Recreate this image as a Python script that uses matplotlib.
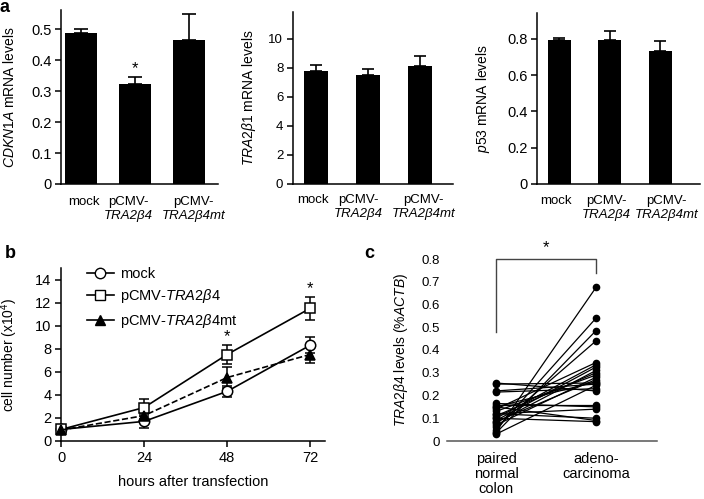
import numpy as np
import matplotlib
matplotlib.use("Agg")
import matplotlib.pyplot as plt
from matplotlib.lines import Line2D
from matplotlib.transforms import offset_copy

plt.rcParams.update({
    "font.family": ["Liberation Sans", "DejaVu Sans"],
    "mathtext.fontset": "custom",
    "mathtext.rm": "Liberation Sans",
    "mathtext.it": "Liberation Sans:italic",
    "mathtext.bf": "Liberation Sans:bold",
    "axes.linewidth": 1.1,
    "xtick.direction": "out",
    "ytick.direction": "out",
    "xtick.major.width": 1.1,
    "ytick.major.width": 1.1,
})

# ---- panel a data ----
GROUP_LINE1 = ["mock", "pCMV-", "pCMV-"]
GROUP_LINE2 = ["", "TRA2β4", "TRA2β4mt"]
CDKN1A = [0.49, 0.325, 0.465]
CDKN1A_ERR = [0.012, 0.02, 0.085]
TRA2B1 = [7.8, 7.5, 8.15]
TRA2B1_ERR = [0.4, 0.45, 0.65]
P53 = [0.795, 0.795, 0.735]
P53_ERR = [0.012, 0.05, 0.055]

# ---- panel b data ----
HOURS = [0, 24, 48, 72]
MOCK_CELLS = [1.0, 1.7, 4.3, 8.3]
MOCK_ERR = [0.3, 0.6, 0.5, 0.7]
TRA_CELLS = [1.0, 2.9, 7.5, 11.5]
TRA_ERR = [0.3, 0.7, 0.8, 1.0]
MT_CELLS = [0.95, 2.2, 5.5, 7.5]
MT_ERR = [0.3, 0.3, 0.9, 0.7]
STAR_HOURS = [48, 72]
STAR_Y = [9.05, 13.2]

# ---- panel c data (paired samples) ----
TISSUES = ["paired\nnormal\ncolon", "adeno-\ncarcinoma"]
NORMAL = [0.04, 0.05, 0.035, 0.06, 0.25, 0.22, 0.255, 0.215, 0.15, 0.16, 0.12, 0.14,
          0.10, 0.09, 0.08, 0.11, 0.13, 0.07, 0.085, 0.15, 0.165, 0.03, 0.10, 0.12]
TUMOR = [0.675, 0.54, 0.485, 0.44, 0.255, 0.25, 0.22, 0.23, 0.09, 0.16, 0.14, 0.345,
         0.335, 0.325, 0.31, 0.30, 0.29, 0.28, 0.27, 0.26, 0.15, 0.245, 0.085, 0.10]

fig = plt.figure(figsize=(7.04, 4.99), dpi=100)


def px_axes(l, t, r, b):
    return fig.add_axes([l / 704, 1 - b / 499, (r - l) / 704, (b - t) / 499])


def bar_panel(ax, vals, errs, ylabel, ylim, yticks, yticklabels, xlim, width, fs_tick,
              cap, line_off, label_x):
    x = np.arange(len(vals))
    ax.bar(x, vals, width=width, color="black")
    ax.errorbar(x, vals, yerr=[np.zeros(len(errs)), errs], fmt="none",
                ecolor="black", elinewidth=1.2, capsize=cap, capthick=1.2)
    ax.set_xlim(*xlim)
    ax.set_ylim(*ylim)
    ax.set_yticks(yticks)
    ax.set_yticklabels(yticklabels, fontsize=fs_tick)
    ax.set_xticks([])
    ax.tick_params(axis="y", length=4, pad=3)
    for s in ["top", "right"]:
        ax.spines[s].set_visible(False)
    ax.set_ylabel(ylabel, fontsize=10)
    t1 = offset_copy(ax.get_xaxis_transform(), fig=fig, y=-line_off[0], units="dots")
    t2 = offset_copy(ax.get_xaxis_transform(), fig=fig, y=-line_off[1], units="dots")
    for xi, l1, l2 in zip(label_x, GROUP_LINE1, GROUP_LINE2):
        ax.text(xi, 0, l1, transform=t1, ha="center", va="center", fontsize=9.5)
        if l2:
            ax.text(xi, 0, l2, transform=t2, ha="center", va="center", fontsize=9.5,
                    fontstyle="italic")
    return x


# panel a - CDKN1A
ax1 = px_axes(61, 10, 218, 184)
x1 = bar_panel(ax1, CDKN1A, CDKN1A_ERR, "$\\mathit{CDKN1A}$ mRNA levels", (0, 0.563),
               [0, 0.1, 0.2, 0.3, 0.4, 0.5], ["0", "0.1", "0.2", "0.3", "0.4", "0.5"],
               (-0.37, 2.54), 0.58, 10.5, 5, (18, 32), (0.05, 0.88, 2.08))
ax1.yaxis.set_label_coords(-0.28, 0.5)
ax1.text(x1[1], 0.372, "*", ha="center", va="center", fontsize=12)

# panel a - TRA2B1
ax2 = px_axes(293, 12, 453, 184)
bar_panel(ax2, TRA2B1, TRA2B1_ERR, "$\\mathit{TRA2β1}$ mRNA levels", (0, 11.86),
          [0, 2, 4, 6, 8, 10], ["0", "2", "4", "6", "8", "10"],
          (-0.44, 2.63), 0.46, 9.5, 4.3, (16, 30), (-0.06, 0.81, 2.07))
ax2.yaxis.set_label_coords(-0.22, 0.5)

# panel a - p53
ax3 = px_axes(537, 13, 700, 184)
bar_panel(ax3, P53, P53_ERR, "$\\mathit{p53}$ mRNA levels", (0, 0.943),
          [0, 0.2, 0.4, 0.6, 0.8], ["0", "0.2", "0.4", "0.6", "0.8"],
          (-0.44, 2.79), 0.46, 10.5, 4.3, (17, 31), (-0.06, 0.93, 2.12))
ax3.yaxis.set_label_coords(-0.276, 0.5)

# panel b
axb = px_axes(61, 268, 325, 441)
series = [
    (MOCK_CELLS, MOCK_ERR, "o", "white", "-"),
    (TRA_CELLS, TRA_ERR, "s", "white", "-"),
    (MT_CELLS, MT_ERR, "^", "black", "--"),
]
for vals, errs, mk, fc, ls in series:
    axb.errorbar(HOURS, vals, yerr=errs, fmt="none", ecolor="black",
                 elinewidth=1.1, capsize=3.5, capthick=1.1, zorder=2, clip_on=False)
    axb.plot(HOURS, vals, color="black", linestyle=ls, linewidth=1.2,
             marker=mk, markersize=7.5, markerfacecolor=fc, markeredgecolor="black",
             markeredgewidth=1.1, zorder=3, clip_on=False)
for h, y in zip(STAR_HOURS, STAR_Y):
    axb.text(h, y, "*", ha="center", va="center", fontsize=12)
axb.set_xlim(0, 76.3)
axb.set_ylim(0, 15)
axb.set_xticks(HOURS)
axb.set_xticklabels([str(h) for h in HOURS], fontsize=10.5)
axb.set_yticks(range(0, 15, 2))
axb.set_yticklabels([str(v) for v in range(0, 15, 2)], fontsize=10.5)
axb.tick_params(length=4, pad=3)
for s in ["top", "right"]:
    axb.spines[s].set_visible(False)
axb.set_xlabel("hours after transfection", fontsize=10.5)
axb.xaxis.set_label_coords(0.5, -0.195)
axb.set_ylabel("cell number (x10$^4$)", fontsize=10)
axb.yaxis.set_label_coords(-0.155, 0.5)
handles = [
    Line2D([], [], color="black", lw=1.2, marker="o", ms=7.5, mfc="white", mec="black"),
    Line2D([], [], color="black", lw=1.2, marker="s", ms=7.5, mfc="white", mec="black"),
    Line2D([], [], color="black", lw=1.2, marker="^", ms=7.5, mfc="black", mec="black"),
]
labels = ["mock", "pCMV-$\\mathit{TRA2β4}$", "pCMV-$\\mathit{TRA2β4}$mt"]
axb.legend(handles, labels, loc="upper left", bbox_to_anchor=(0.075, 1.04), frameon=False,
           fontsize=10.5, handlelength=1.9, handletextpad=0.4, labelspacing=0.45,
           borderaxespad=0)

# panel c
axc = px_axes(447, 259, 657, 441)
for n, t in zip(NORMAL, TUMOR):
    axc.plot([0, 1], [n, t], color="black", linewidth=0.9, marker="o", markersize=4.5,
             markerfacecolor="black", markeredgecolor="black", clip_on=False)
axc.set_xlim(-0.49, 1.61)
axc.set_ylim(0, 0.8)
axc.set_xticks([0, 1])
axc.set_xticklabels(TISSUES, fontsize=10.5, linespacing=1.1)
axc.set_yticks(np.arange(0, 0.81, 0.1))
axc.set_yticklabels(["0", "0.1", "0.2", "0.3", "0.4", "0.5", "0.6", "0.7", "0.8"], fontsize=9.5)
axc.tick_params(axis="both", length=0)
axc.tick_params(axis="x", pad=8)
axc.tick_params(axis="y", pad=5)
for s in ["top", "right", "left"]:
    axc.spines[s].set_visible(False)
axc.spines["bottom"].set_color("#555555")
axc.plot([0, 0, 1, 1], [0.48, 0.8, 0.8, 0.74], color="#444444", linewidth=1.0, clip_on=False)
axc.text(0.5, 0.85, "*", ha="center", va="center", fontsize=12)
axc.set_ylabel("$\\mathit{TRA2β4}$ levels (%$\\mathit{ACTB}$)", fontsize=10)
axc.yaxis.set_label_coords(-0.176, 0.5)

# panel letters
fig.text(0 / 704, 1 - 8 / 499, "a", fontsize=13, fontweight="bold", va="center", ha="left")
fig.text(5 / 704, 1 - 253 / 499, "b", fontsize=13, fontweight="bold", va="center", ha="left")
fig.text(364 / 704, 1 - 254 / 499, "c", fontsize=13, fontweight="bold", va="center", ha="left")

fig.savefig("out.png", dpi=100)
